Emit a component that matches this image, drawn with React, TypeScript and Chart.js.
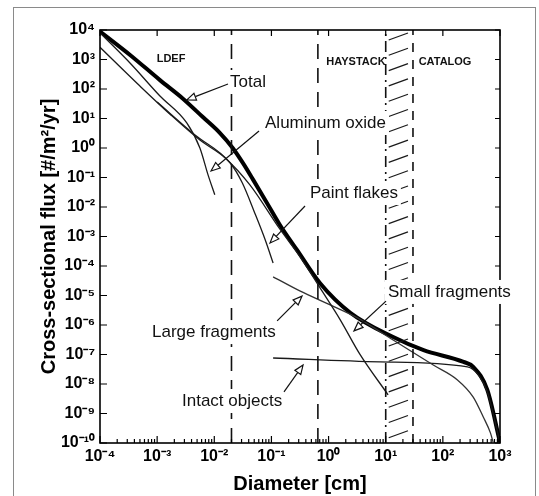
import React, { useEffect, useRef } from 'react';
import { Chart, registerables } from 'chart.js';

Chart.register(...registerables);

// ---------- data (diameter in cm, cross-sectional flux in #/m2/yr) ----------
const xTickExponents = [-4, -3, -2, -1, 0, 1, 2, 3];
const yTickExponents = [4, 3, 2, 1, 0, -1, -2, -3, -4, -5, -6, -7, -8, -9, -10];

const totalDiam = [1e-4, 3.4e-4, 1.12e-3, 2.8e-3, 6.3e-3, 1.26e-2, 2.1e-2, 3.2e-2, 4.8e-2, 8.3e-2, 0.14, 0.28, 0.71, 2.4, 13.5, 46, 230, 340, 600, 1000];
const totalFlux = [8.9e3, 1.4e3, 200, 48, 11.2, 3.2, 1.0, 0.3, 8.3e-2, 1.4e-2, 2.5e-3, 3.5e-4, 2.6e-5, 2.6e-6, 3.9e-7, 1.4e-7, 5.6e-8, 3.8e-8, 6.3e-9, 1.05e-10];

const aluminumDiam = [1e-4, 3.35e-4, 1.12e-3, 3.3e-3, 5.6e-3, 7.8e-3, 1.02e-2];
const aluminumFlux = [8.0e3, 760, 58, 7.1, 1.0, 0.12, 2.6e-2];

const paintDiam = [1.0e-3, 4.6e-3, 1.9e-2, 3.1e-2, 5.1e-2, 7.8e-2, 0.107];
const paintFlux = [36, 2.75, 0.31, 6.5e-2, 6.3e-3, 7.6e-4, 1.26e-4];

const smallFragDiam = [1e-4, 5.0e-4, 1.68e-3, 5.6e-3, 1.55e-2, 4.2e-2, 0.14, 0.32, 0.71, 1.6, 3.5, 11];
const smallFragFlux = [2.6e3, 126, 14, 1.86, 0.46, 5.6e-2, 1.8e-3, 2.0e-4, 1.8e-5, 1.5e-6, 1.05e-7, 4.3e-9];

const largeFragDiam = [0.107, 0.32, 1.07, 3.2, 13.5, 68, 178, 340, 510, 680, 760];
const largeFragFlux = [4.3e-5, 1.4e-5, 4.8e-6, 1.74e-6, 3.1e-7, 4.4e-8, 1.4e-8, 3.6e-9, 7.6e-10, 2.2e-10, 1.05e-10];

const intactDiam = [0.107, 8, 270, 420, 600, 1000];
const intactFlux = [7.6e-8, 5.6e-8, 3.8e-8, 2.0e-8, 5.4e-9, 1.05e-10];

// measurement-region boundaries (cm)
const ldefLimit = 0.02;
const haystackLimit = 0.65;
const catalogBand = [10, 30];

const yMin = 1e-10;
const yMax = 1e4;

// ---------- annotations (positions as log10 of data values) ----------
const regionLabels = [
  { text: 'LDEF', lx: -2.757, ly: 3.017 },
  { text: 'HAYSTACK', lx: 0.48, ly: 2.915 },
  { text: 'CATALOG', lx: 2.038, ly: 2.915 },
];

const curveLabels = [
  { text: 'Total', lx: -1.725, ly: 2.237, tail: [-1.76, 2.17], head: [-2.48, 1.63] },
  { text: 'Aluminum oxide', lx: -1.112, ly: 0.847, tail: [-1.217, 0.576], head: [-2.057, -0.78] },
  { text: 'Paint flakes', lx: -0.325, ly: -1.525, tail: [-0.412, -1.966], head: [-1.025, -3.22] },
  { text: 'Small fragments', lx: 1.04, ly: -4.88, tail: [1.005, -5.19], head: [0.445, -6.2] },
  { text: 'Large fragments', lx: -3.09, ly: -6.24, tail: [-0.9, -5.86], head: [-0.465, -5.02] },
  { text: 'Intact objects', lx: -2.565, ly: -8.576, tail: [-0.78, -8.27], head: [-0.447, -7.36] },
];

const FONT = '"Liberation Sans", Arial, Helvetica, sans-serif';

const SUP: Record<string, string> = {
  '0': '\u2070', '1': '\u00b9', '2': '\u00b2', '3': '\u00b3', '4': '\u2074',
  '5': '\u2075', '6': '\u2076', '7': '\u2077', '8': '\u2078', '9': '\u2079', '-': '\u207b',
};
const powLabel = (v: number) => {
  const e = Math.round(Math.log10(v));
  return '10' + String(e).split('').map((c) => SUP[c]).join('');
};

const zip = (xs: number[], ys: number[]) => xs.map((x, i) => ({ x, y: ys[i] }));
const vline = (x: number) => [{ x, y: yMin }, { x, y: yMax }];

const decorPlugin = {
  id: 'decor',
  afterDatasetsDraw(chart: any) {
    const { ctx, chartArea: a, scales } = chart;
    const xs = scales.x;
    const ys = scales.y;
    const X = (e: number) => xs.getPixelForValue(Math.pow(10, e));
    const Y = (e: number) => ys.getPixelForValue(Math.pow(10, e));
    ctx.save();

    // hatching of the catalog band
    const bl = xs.getPixelForValue(catalogBand[0]);
    const br = xs.getPixelForValue(catalogBand[1]);
    ctx.strokeStyle = '#1a1a1a';
    ctx.lineWidth = 1.2;
    for (let yy = a.top + 3; yy < a.bottom - 6; yy += 15.3) {
      ctx.beginPath();
      ctx.moveTo(bl + 3, yy + 7);
      ctx.lineTo(br - 5, yy);
      ctx.stroke();
    }

    // plot frame
    ctx.strokeStyle = '#000';
    ctx.lineWidth = 1.6;
    ctx.strokeRect(a.left, a.top, a.right - a.left, a.bottom - a.top);

    // tick marks
    ctx.lineWidth = 1.2;
    ctx.beginPath();
    xTickExponents.forEach((e, i) => {
      const px = X(e);
      ctx.moveTo(px, a.bottom); ctx.lineTo(px, a.bottom - 7);
      ctx.moveTo(px, a.top); ctx.lineTo(px, a.top + 6);
      if (i < xTickExponents.length - 1) {
        for (let k = 2; k <= 9; k++) {
          const mx = xs.getPixelForValue(k * Math.pow(10, e));
          ctx.moveTo(mx, a.bottom); ctx.lineTo(mx, a.bottom - 4);
        }
      }
    });
    yTickExponents.forEach((e) => {
      const py = Y(e);
      ctx.moveTo(a.left, py); ctx.lineTo(a.left + 7, py);
      ctx.moveTo(a.right, py); ctx.lineTo(a.right - 5, py);
    });
    ctx.stroke();

    // region labels
    ctx.fillStyle = '#111';
    ctx.font = `bold 11px ${FONT}`;
    ctx.textAlign = 'center';
    ctx.textBaseline = 'middle';
    regionLabels.forEach((r) => ctx.fillText(r.text, X(r.lx), Y(r.ly)));

    // curve labels with arrows
    ctx.font = `17px ${FONT}`;
    ctx.textAlign = 'left';
    curveLabels.forEach((c) => {
      const tx = X(c.lx);
      const ty = Y(c.ly);
      const w = ctx.measureText(c.text).width;
      ctx.fillStyle = '#fff';
      ctx.fillRect(tx - 3, ty - 12, w + 6, 24);
      ctx.fillStyle = '#111';
      ctx.fillText(c.text, tx, ty);

      const x0 = X(c.tail[0]), y0 = Y(c.tail[1]);
      const x1 = X(c.head[0]), y1 = Y(c.head[1]);
      const ang = Math.atan2(y1 - y0, x1 - x0);
      const len = 9, hw = 3.6;
      const bx = x1 - len * Math.cos(ang), by = y1 - len * Math.sin(ang);
      ctx.strokeStyle = '#111';
      ctx.lineWidth = 1.2;
      ctx.beginPath();
      ctx.moveTo(x0, y0);
      ctx.lineTo(bx, by);
      ctx.stroke();
      ctx.beginPath();
      ctx.moveTo(x1, y1);
      ctx.lineTo(bx + hw * Math.sin(ang), by - hw * Math.cos(ang));
      ctx.lineTo(bx - hw * Math.sin(ang), by + hw * Math.cos(ang));
      ctx.closePath();
      ctx.fillStyle = '#fff';
      ctx.fill();
      ctx.stroke();
    });

    ctx.restore();
  },
};

export default function App() {
  const canvasRef = useRef<HTMLCanvasElement>(null);

  useEffect(() => {
    if (!canvasRef.current) return;
    const thin = {
      borderColor: '#1a1a1a',
      borderWidth: 1.3,
      pointRadius: 0,
      showLine: true,
      cubicInterpolationMode: 'monotone' as const,
    };
    const dashed = (x: number, dash: number[]) => ({
      data: vline(x),
      borderColor: '#111',
      borderWidth: 1.6,
      borderDash: dash,
      pointRadius: 0,
      showLine: true,
    });
    const chart = new Chart(canvasRef.current, {
      type: 'scatter',
      data: {
        datasets: [
          dashed(ldefLimit, [15, 9]),
          dashed(haystackLimit, [15, 9]),
          dashed(catalogBand[0], [11, 5, 2, 5]),
          dashed(catalogBand[1], [9, 8]),
          { label: 'Aluminum oxide', data: zip(aluminumDiam, aluminumFlux), ...thin },
          { label: 'Paint flakes', data: zip(paintDiam, paintFlux), ...thin },
          { label: 'Small fragments', data: zip(smallFragDiam, smallFragFlux), ...thin },
          { label: 'Large fragments', data: zip(largeFragDiam, largeFragFlux), ...thin, borderColor: '#333' },
          { label: 'Intact objects', data: zip(intactDiam, intactFlux), ...thin },
          {
            label: 'Total',
            data: zip(totalDiam, totalFlux),
            borderColor: '#000',
            borderWidth: 4,
            pointRadius: 0,
            showLine: true,
            cubicInterpolationMode: 'monotone' as const,
          },
        ] as any,
      },
      options: {
        animation: false,
        responsive: false,
        maintainAspectRatio: false,
        layout: { padding: { left: 0, top: 30, right: 39, bottom: 0 } },
        plugins: { legend: { display: false }, tooltip: { enabled: false } },
        scales: {
          x: {
            type: 'logarithmic',
            position: 'bottom',
            min: 1e-4,
            max: 1e3,
            afterBuildTicks: (s: any) => {
              s.ticks = xTickExponents.map((e) => ({ value: Math.pow(10, e) }));
            },
            afterFit: (s: any) => { s.height = 53; },
            grid: { display: false, drawTicks: false },
            border: { display: false },
            ticks: {
              callback: (v: any) => powLabel(Number(v)),
              autoSkip: false,
              maxRotation: 0,
              padding: 4,
              color: '#000',
              font: { family: FONT, size: 16, weight: 'bold' },
            },
            title: {
              display: true,
              text: 'Diameter [cm]',
              color: '#000',
              font: { family: FONT, size: 20, weight: 'bold' },
              padding: { top: 0, bottom: 0 },
            },
          },
          y: {
            type: 'logarithmic',
            position: 'left',
            min: yMin,
            max: yMax,
            afterBuildTicks: (s: any) => {
              s.ticks = yTickExponents.map((e) => ({ value: Math.pow(10, e) }));
            },
            afterFit: (s: any) => { s.width = 100; },
            grid: { display: false, drawTicks: false },
            border: { display: false },
            ticks: {
              callback: (v: any) => powLabel(Number(v)),
              autoSkip: false,
              padding: 5,
              color: '#000',
              font: { family: FONT, size: 16, weight: 'bold' },
            },
            title: {
              display: true,
              text: 'Cross-sectional flux [#/m\u00b2/yr]',
              color: '#000',
              font: { family: FONT, size: 20, weight: 'bold' },
              padding: { top: 37, bottom: 0 },
            },
          },
        },
      } as any,
      plugins: [decorPlugin],
    });
    return () => chart.destroy();
  }, []);

  return (
    <div style={{ position: 'fixed', left: 0, top: 0, width: 539, height: 496, background: '#fff', overflow: 'hidden' }}>
      <canvas ref={canvasRef} width={539} height={496} style={{ display: 'block' }} />
      <div
        style={{
          position: 'absolute', left: 13, top: 7, width: 521, height: 500,
          border: '1.5px solid #8a8a8a', pointerEvents: 'none',
        }}
      />
    </div>
  );
}
